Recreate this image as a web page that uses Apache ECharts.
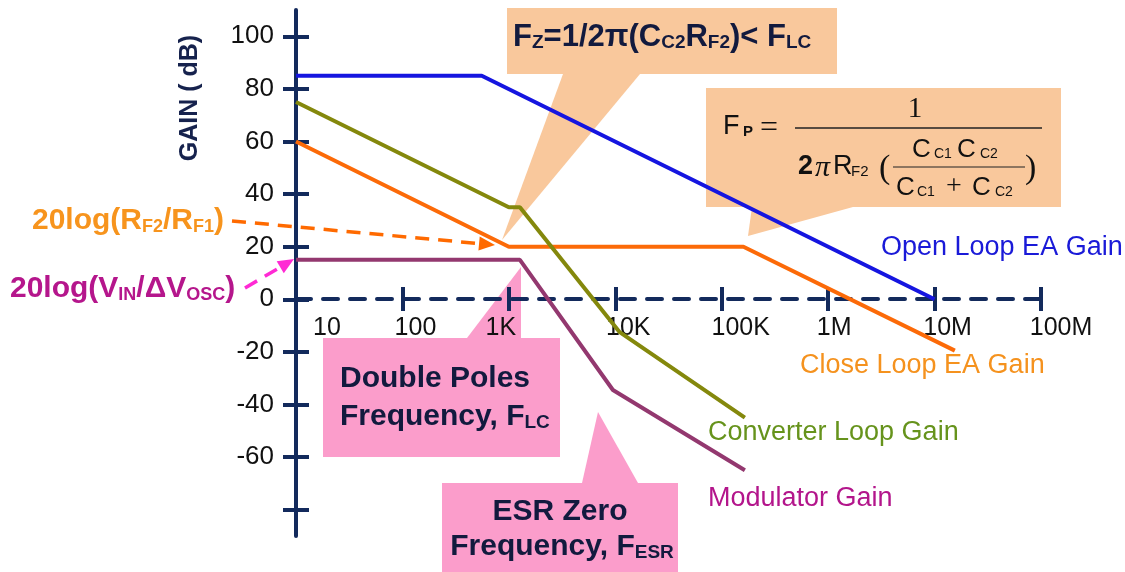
<!DOCTYPE html>
<html>
<head>
<meta charset="utf-8">
<script src="https://cdn.jsdelivr.net/npm/echarts@6/dist/echarts.min.js"></script>
<style>
html, body { margin: 0; padding: 0; background: #fff; }
#chart { width: 1125px; height: 572px; }
</style>
</head>
<body>
<div id="chart"></div>
<script>
// x axis: frequency decades (Hz)
const freqTicks = [10, 100, 1e3, 1e4, 1e5, 1e6, 1e7, 1e8];
const freqLabels = ['10', '100', '1K', '10K', '100K', '1M', '10M', '100M'];
// y axis: gain (dB)
const gainTicks = [-80, -60, -40, -20, 0, 20, 40, 60, 80, 100];
const gainLabels = [-60, -40, -20, 0, 20, 40, 60, 80, 100];

// asymptotic curves, [frequency Hz, gain dB]
const openLoop = [[10, 85], [556, 85], [1e7, 0]];
const closeLoop = [[10, 60], [1000, 20], [160000, 20], [15500000, -19.5]];
const converterLoop = [[10, 75], [1000, 35], [1270, 35], [11000, -12.5], [165000, -45]];
const modulator = [[10, 15], [1270, 15], [9500, -34.5], [165000, -65]];

const navy = '#132a5c';
const sans = '"Liberation Sans", Arial, sans-serif';
const serif = '"Liberation Serif", "Times New Roman", serif';

// nudges of the frequency labels relative to their ticks (px)
const labelShift = [31, 13, -8, 13, 19, 6, 13, 20];
const xRich = {};
labelShift.forEach(function (s, i) {
  xRich['s' + i] = {
    fontSize: 25, fontFamily: sans, color: '#111',
    padding: s >= 0 ? [0, 0, 0, 2 * s] : [0, -2 * s, 0, 0]
  };
});

function text (x, y, str, opt) {
  return {
    type: 'text', x: x, y: y, z: 20,
    style: Object.assign({
      text: str, align: 'left', verticalAlign: 'middle',
      fontFamily: sans, fontSize: 24, fill: '#111'
    }, opt)
  };
}

function subRich (size, color) {
  return { fontSize: size, fontWeight: 'bold', fontFamily: sans, color: color, lineHeight: 8, verticalAlign: 'bottom' };
}

function arrow (x1, y1, x2, y2, color) {
  const dx = x2 - x1, dy = y2 - y1;
  const len = Math.sqrt(dx * dx + dy * dy);
  const ux = dx / len, uy = dy / len;
  const bx = x2 - ux * 16, by = y2 - uy * 16;
  return [
    { type: 'line', z: 15, shape: { x1: x1, y1: y1, x2: bx, y2: by },
      style: { stroke: color, lineWidth: 3.5, lineDash: [14, 9] } },
    { type: 'polygon', z: 15,
      shape: { points: [[x2, y2], [bx - uy * 7, by + ux * 7], [bx + uy * 7, by - ux * 7]] },
      style: { fill: color } }
  ];
}

function box (x, y, w, h, tri, color) {
  return [
    { type: 'rect', z: -1, shape: { x: x, y: y, width: w, height: h }, style: { fill: color } },
    { type: 'polygon', z: -1, shape: { points: tri }, style: { fill: color } }
  ];
}

const peach = '#f9c89c';
const pink = '#fb9dcb';
const dark = '#121a3e';

const graphics = [].concat(
  box(507, 8, 330, 66, [[563, 74], [640, 74], [502, 240]], peach),
  box(706, 88, 355, 119, [[752, 207], [853, 207], [748, 236]], peach),
  box(323, 338, 237, 119, [[467, 338], [521, 338], [521, 267]], pink),
  box(442, 483, 236, 100, [[582, 483], [638, 483], [598, 412]], pink),
  arrow(232, 221, 495, 245, '#ff6a00'),
  arrow(245, 288, 294, 259, '#ff2ad4'),
  [
    // y axis title
    { type: 'text', x: 190, y: 98, rotation: Math.PI / 2, z: 20,
      style: { text: 'GAIN ( dB)', align: 'center', verticalAlign: 'middle',
        fontFamily: sans, fontWeight: 'bold', fontSize: 25, fill: '#16224d' } },

    // zero frequency box
    text(513, 37, 'F{s|Z}=1/2π(C{s|C2}R{s|F2})< F{s|LC}', {
      fontWeight: 'bold', fontSize: 31, lineHeight: 31, fill: dark,
      rich: { s: subRich(19, dark) }
    }),

    // pole frequency formula
    text(723, 127, 'F', { fontSize: 27 }),
    text(743, 132, 'P', { fontSize: 15, fontWeight: 'bold' }),
    text(760, 129, '=', { fontFamily: serif, fontSize: 32 }),
    { type: 'line', z: 20, shape: { x1: 795, y1: 128, x2: 1042, y2: 128 }, style: { stroke: '#222', lineWidth: 1.5 } },
    text(915, 109, '1', { fontFamily: serif, fontSize: 29, align: 'center' }),
    text(798, 167, '2', { fontSize: 27, fontWeight: 'bold' }),
    text(815, 168, 'π', { fontFamily: serif, fontStyle: 'italic', fontSize: 30 }),
    text(833, 167, 'R', { fontSize: 27 }),
    text(851, 172, 'F2', { fontSize: 15 }),
    text(879, 169, '(', { fontFamily: serif, fontSize: 34 }),
    text(912, 150, 'C', { fontSize: 26 }),
    text(934, 154, 'C1', { fontSize: 14 }),
    text(957, 150, 'C', { fontSize: 26 }),
    text(980, 154, 'C2', { fontSize: 14 }),
    { type: 'line', z: 20, shape: { x1: 893, y1: 167, x2: 1025, y2: 167 }, style: { stroke: '#222', lineWidth: 1.2 } },
    text(896, 188, 'C', { fontSize: 26 }),
    text(917, 192, 'C1', { fontSize: 14 }),
    text(946, 187, '+', { fontFamily: serif, fontSize: 28 }),
    text(972, 188, 'C', { fontSize: 26 }),
    text(995, 192, 'C2', { fontSize: 14 }),
    text(1025, 169, ')', { fontFamily: serif, fontSize: 34 }),

    // pink callouts
    text(340, 379, 'Double Poles', { fontWeight: 'bold', fontSize: 30, fill: dark }),
    text(340, 417, 'Frequency, F{s|LC}', { fontWeight: 'bold', fontSize: 30, lineHeight: 30, fill: dark,
      rich: { s: subRich(19, dark) } }),
    text(560, 512, 'ESR Zero', { fontWeight: 'bold', fontSize: 30, fill: dark, align: 'center' }),
    text(562, 547, 'Frequency, F{s|ESR}', { fontWeight: 'bold', fontSize: 30, lineHeight: 30, fill: dark, align: 'center',
      rich: { s: subRich(19, dark) } }),

    // left annotations
    text(32, 221, '20log(R{s|F2}/R{s|F1})', { fontWeight: 'bold', fontSize: 30, lineHeight: 30, fill: '#f7941d',
      rich: { s: subRich(18, '#f7941d') } }),
    text(10, 289, '20log(V{s|IN}/ΔV{s|OSC})', { fontWeight: 'bold', fontSize: 30, lineHeight: 30, fill: '#b5168c',
      rich: { s: subRich(18, '#b5168c') } }),

    // curve names
    text(881, 248, 'Open Loop EA Gain', { fontSize: 27, fill: '#1a1ad8' }),
    text(800, 366, 'Close Loop EA Gain', { fontSize: 27, fill: '#f5921e' }),
    text(708, 433, 'Converter Loop Gain', { fontSize: 27, fill: '#66931c' }),
    text(708, 499, 'Modulator Gain', { fontSize: 27, fill: '#b3158b' })
  ]
);

// the frequency axis sits on 0 dB: lift it from the grid bottom (536) to y = 299
const zeroOffset = -237;

const chart = echarts.init(document.getElementById('chart'), null, { renderer: 'canvas' });
chart.setOption({
  animation: false,
  backgroundColor: '#fff',
  grid: { left: 296, right: 84, top: 10, bottom: 36, containLabel: false },
  xAxis: [
    {
      type: 'log', logBase: 10, min: 10, max: 1e8, position: 'bottom', offset: zeroOffset,
      axisLine: { onZero: false, lineStyle: { color: navy, width: 4, type: [15, 12] } },
      axisTick: { inside: true, length: 12, lineStyle: { color: navy, width: 4 } },
      axisLabel: {
        margin: 17,
        formatter: function (v) {
          const i = Math.round(Math.log10(v)) - 1;
          return '{s' + i + '|' + freqLabels[i] + '}';
        },
        rich: xRich
      },
      splitLine: { show: false }
    },
    {
      type: 'log', logBase: 10, min: 10, max: 1e8, position: 'bottom', offset: zeroOffset,
      axisLine: { show: false, onZero: false },
      axisTick: { inside: false, length: 12, lineStyle: { color: navy, width: 4 } },
      axisLabel: { show: false },
      splitLine: { show: false }
    }
  ],
  yAxis: [
    {
      type: 'value', min: -90, max: 110, position: 'left',
      axisLine: { show: true, onZero: false, lineStyle: { color: navy, width: 4 } },
      axisTick: { show: true, inside: false, length: 13, customValues: gainTicks, lineStyle: { color: navy, width: 4 } },
      axisLabel: { margin: 22, customValues: gainLabels, fontSize: 26, fontFamily: sans, color: '#111' },
      splitLine: { show: false }
    },
    {
      type: 'value', min: -90, max: 110, position: 'left',
      axisLine: { show: false, onZero: false },
      axisTick: { show: true, inside: true, length: 13, customValues: gainTicks, lineStyle: { color: navy, width: 4 } },
      axisLabel: { show: false },
      splitLine: { show: false }
    }
  ],
  series: [
    { name: 'Open Loop EA Gain', type: 'line', data: openLoop, symbol: 'none', lineStyle: { color: '#1515e0', width: 4 } },
    { name: 'Close Loop EA Gain', type: 'line', data: closeLoop, symbol: 'none', lineStyle: { color: '#fc6a08', width: 4 } },
    { name: 'Converter Loop Gain', type: 'line', data: converterLoop, symbol: 'none', lineStyle: { color: '#84880c', width: 4 } },
    { name: 'Modulator Gain', type: 'line', data: modulator, symbol: 'none', lineStyle: { color: '#93386f', width: 4 } }
  ],
  graphic: graphics
});
</script>
</body>
</html>
